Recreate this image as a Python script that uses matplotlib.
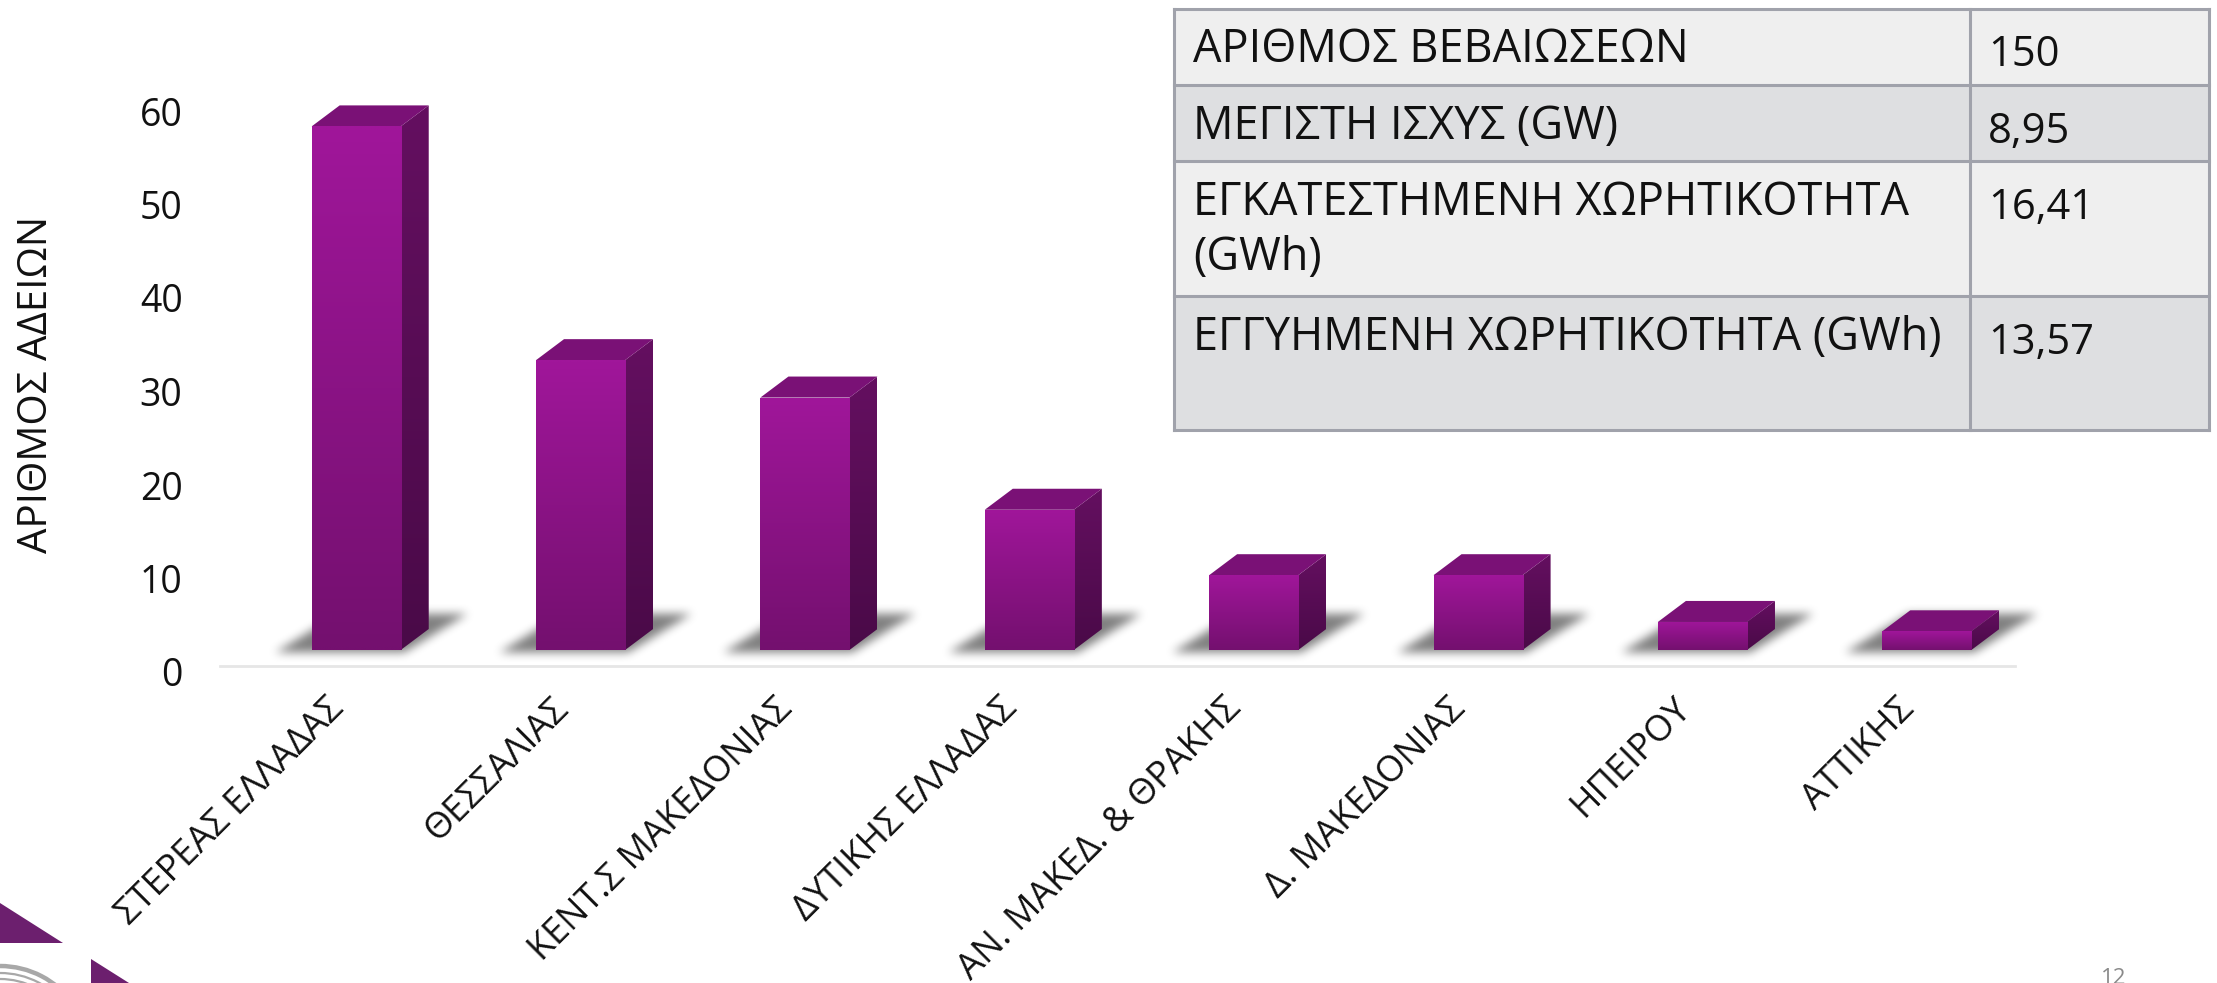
import numpy as np
import matplotlib
matplotlib.use("Agg")
import matplotlib.pyplot as plt
from matplotlib.patches import Polygon, Rectangle, Arc
from matplotlib.transforms import Affine2D

plt.rcParams['font.family'] = ['Open Sans', 'DejaVu Sans']

# data
# -------------------------------------------------------------------------------------
regions = ["ΣΤΕΡΕΑΣ ΕΛΛΑΔΑΣ", "ΘΕΣΣΑΛΙΑΣ", "ΚΕΝΤ.Σ ΜΑΚΕΔΟΝΙΑΣ", "ΔΥΤΙΚΗΣ ΕΛΛΑΔΑΣ",
           "ΑΝ. ΜΑΚΕΔ. & ΘΡΑΚΗΣ", "Δ. ΜΑΚΕΔΟΝΙΑΣ", "ΗΠΕΙΡΟΥ", "ΑΤΤΙΚΗΣ"]
permits = [56, 31, 27, 15, 8, 8, 3, 2]
y_ticks = [0, 10, 20, 30, 40, 50, 60]

table_labels = ["ΑΡΙΘΜΟΣ ΒΕΒΑΙΩΣΕΩΝ", "ΜΕΓΙΣΤΗ ΙΣΧΥΣ (GW)",
                "ΕΓΚΑΤΕΣΤΗΜΕΝΗ ΧΩΡΗΤΙΚΟΤΗΤΑ\n(GWh)", "ΕΓΓΥΗΜΕΝΗ ΧΩΡΗΤΙΚΟΤΗΤΑ (GWh)"]
table_values = ["150", "8,95", "16,41", "13,57"]

W, H = 2217, 983
fig = plt.figure(figsize=(W / 100, H / 100), dpi=100, facecolor='white')

# main axes
# -------------------------------------------------------------------------------------
ax = fig.add_axes([220 / W, (H - 666) / H, (2015 - 220) / W, 561 / H])
ax.set_xlim(-0.5, 7.5)
ax.set_ylim(0, 60)
ax.patch.set_alpha(0)

for s in ['top', 'right', 'left']:
    ax.spines[s].set_visible(False)
ax.spines['bottom'].set_color('#E6E6E6')
ax.spines['bottom'].set_linewidth(2)

ax.set_yticks(y_ticks)
ax.tick_params(axis='y', length=0, pad=27, labelsize=27, labelcolor='#111111')
ax.set_xticks(range(len(regions)))
ax.set_xticklabels(regions, rotation=45, ha='right', va='top', rotation_mode='anchor',
                   fontsize=26, color='#111111')
ax.tick_params(axis='x', length=0, pad=18)

# old style digits in the reference sit a bit low
for lab in ax.get_yticklabels():
    lab.set_transform(lab.get_transform() + Affine2D().translate(0, -6))
for lab in ax.get_xticklabels():
    lab.set_transform(lab.get_transform() + Affine2D().translate(-6, 0))

# bars sit in front of the axis plane, shifted up and right in pixels
shift = ax.transData + Affine2D().translate(24, 16)
bars = ax.bar(range(len(regions)), permits, width=0.397, color='none', transform=shift,
              clip_on=False, zorder=4)

depth_x, depth_y = 28, 21
grad = np.linspace(0, 1, 64).reshape(-1, 1)

def mix(c1, c2, t):
    return tuple(a + (b - a) * t for a, b in zip(c1, c2))

def rgb(h):
    return matplotlib.colors.to_rgb(h)

def blur(a, n=9, passes=3):
    # repeated box filter along both axes
    k = np.ones(n) / n
    for _ in range(passes):
        a = np.apply_along_axis(lambda r: np.convolve(r, k, mode='same'), 0, a)
        a = np.apply_along_axis(lambda r: np.convolve(r, k, mode='same'), 1, a)
    return a

for bar in bars:
    x0, y0 = bar.get_x(), bar.get_y()
    w, h = bar.get_width(), bar.get_height()
    (px0, py0), (px1, py1) = shift.transform([(x0, y0), (x0 + w, y0 + h)])

    # ground shadow: blurred parallelogram under the bar
    gx, gy = np.meshgrid(np.arange(px0 - 80, px1 + 110), np.arange(py0 - 40, py0 + 70))
    t = (gy - (py0 - 2)) / 38
    mask = (t >= 0) & (t <= 1) & (gx >= px0 - 36 + 62 * t) & (gx <= px1 + 4 + 62 * t)
    shadow = np.zeros(mask.shape + (4,))
    shadow[..., 3] = 0.5 * blur(mask.astype(float))
    ax.imshow(shadow, extent=(gx.min(), gx.max(), gy.min(), gy.max()), origin='lower',
              transform=Affine2D(), aspect='auto', zorder=1, interpolation='bilinear',
              clip_on=False)

    # side face
    side = Polygon([(px1, py0), (px1 + depth_x, py0 + depth_y), (px1 + depth_x, py1 + depth_y), (px1, py1)],
                   closed=True, transform=None, facecolor='none', edgecolor='none', clip_on=False, zorder=3)
    ax.add_patch(side)
    top_c, bot_c = rgb('#640F60'), rgb('#4A0A48')
    img = np.array([[mix(top_c, bot_c, v) for v in g] for g in grad])
    im = ax.imshow(img, extent=(px1, px1 + depth_x, py0, py1 + depth_y), transform=Affine2D(),
                   aspect='auto', zorder=3, interpolation='bilinear')
    im.set_clip_path(side)

    # top face
    ax.add_patch(Polygon([(px0, py1), (px1, py1), (px1 + depth_x, py1 + depth_y), (px0 + depth_x, py1 + depth_y)],
                         closed=True, transform=None, facecolor='#7A1176', edgecolor='none',
                         clip_on=False, zorder=3))

    # front face gradient
    front = Rectangle((px0, py0), px1 - px0, py1 - py0, transform=None, facecolor='none',
                      edgecolor='none', clip_on=False, zorder=4)
    ax.add_patch(front)
    top_c, bot_c = rgb('#A0169A'), rgb('#74106F')
    img = np.array([[mix(top_c, bot_c, v) for v in g] for g in grad])
    im = ax.imshow(img, extent=(px0, px1, py0, py1), transform=Affine2D(),
                   aspect='auto', zorder=4, interpolation='bilinear')
    im.set_clip_path(front)

# imshow resets the limits
ax.set_xlim(-0.5, 7.5)
ax.set_ylim(0, 60)
ax.set_aspect('auto')

fig.text(37 / W, 1 - 384 / H, "ΑΡΙΘΜΟΣ ΑΔΕΙΩΝ", rotation=90, ha='center', va='center',
         fontsize=29, color='#111111')

# overlay in pixel coordinates: table, logo pieces, page number
# -------------------------------------------------------------------------------------
ov = fig.add_axes([0, 0, 1, 1])
ov.set_xlim(0, W)
ov.set_ylim(H, 0)
ov.axis('off')
ov.patch.set_alpha(0)

col_x = [1174, 1970, 2209]
row_y = [8.5, 85, 161, 296, 430]
fills = ['#EFEFEF', '#DEDFE1', '#EFEFEF', '#DEDFE1']
for i in range(4):
    ov.add_patch(Rectangle((col_x[0], row_y[i]), col_x[2] - col_x[0], row_y[i + 1] - row_y[i],
                           facecolor=fills[i], edgecolor='none'))
    ov.text(col_x[0] + 19, row_y[i] + 19, table_labels[i], va='top', ha='left',
            fontsize=32.5, color='#111111', linespacing=1.25)
    ov.text(col_x[1] + 18, row_y[i] + 26, table_values[i], va='top', ha='left',
            fontsize=30, color='#111111')
for y in row_y:
    ov.plot([col_x[0], col_x[2]], [y, y], color='#A0A2AB', lw=2.2, solid_capstyle='projecting')
for x in [col_x[0], col_x[1], col_x[2]]:
    ov.plot([x, x], [row_y[0], row_y[-1]], color='#A0A2AB', lw=2.2, solid_capstyle='projecting')

ov.add_patch(Polygon([(0, 903), (63, 943), (0, 943)], closed=True, facecolor='#6C1F6E', edgecolor='none'))
ov.add_patch(Polygon([(91, 959), (129, 983), (91, 983)], closed=True, facecolor='#6C1F6E', edgecolor='none'))
for r, lw in [(90, 3.2), (83, 1.6), (77, 1.6), (71, 1.6)]:
    ov.add_patch(Arc((0, 1056), 2 * r * 1.0, 2 * r, theta1=270, theta2=325, color='#A8A8A8', lw=lw))

ov.text(2114, 968, "12", ha='center', va='top', fontsize=16, color='#8A8A8A')

fig.savefig('out.png', dpi=100)
